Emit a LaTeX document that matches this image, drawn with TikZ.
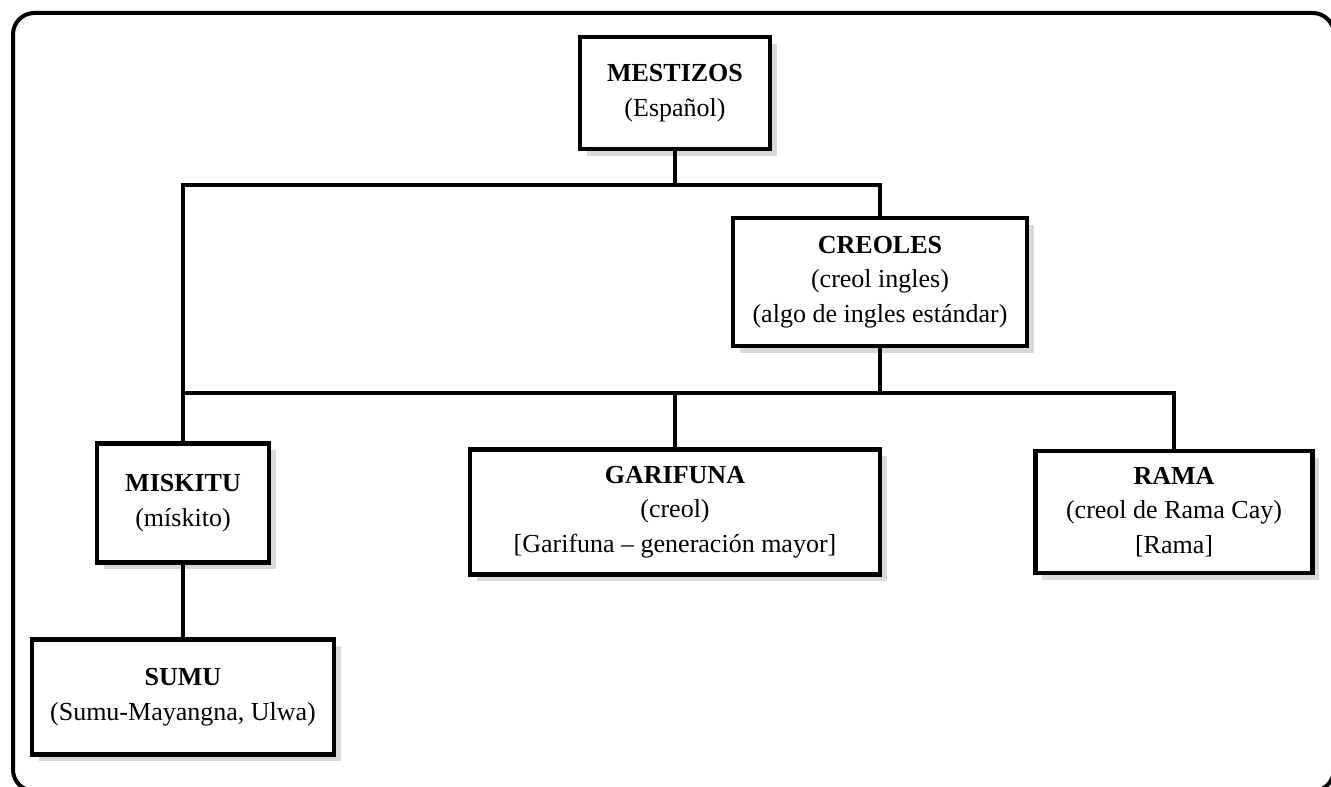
\documentclass[tikz,border=0pt]{standalone}
\usepackage{fontspec}
\setmainfont{Liberation Serif}

\tikzset{every picture/.style={line width=0.75pt}}
\tikzset{
  grupo/.style={draw, fill=white, line width=3.4pt, align=center, inner sep=0pt,
    font=\fontsize{19.5}{26}\selectfont,
    preaction={fill=gray!30, draw=none, transform canvas={xshift=5pt, yshift=-5pt}}},
  enlace/.style={line width=2.8pt}
}

\begin{document}
\begin{tikzpicture}[x=0.75pt,y=0.75pt,yscale=-1,xscale=1]
    \useasboundingbox (0,0) rectangle (1331,787);

    %Shape: Rounded Rectangle [id:frame]
    \draw [line width=3pt, rounded corners=16pt] (13,13) rectangle (1334,791);

    % Text Node
    \draw (675,93) node [grupo, minimum width=142.5pt, minimum height=84pt] (mestizos) {\textbf{MESTIZOS}\\(Español)};
    % Text Node
    \draw (880,282) node [grupo, minimum width=220.5pt, minimum height=96pt] (creoles) {\textbf{CREOLES}\\(creol ingles)\\(algo de ingles estándar)};
    % Text Node
    \draw (183,503) node [grupo, minimum width=129pt, minimum height=89pt] (miskitu) {\textbf{MISKITU}\\(mískito)};
    % Text Node
    \draw (183,697) node [grupo, minimum width=226.5pt, minimum height=86pt] (sumu) {\textbf{SUMU}\\(Sumu-Mayangna, Ulwa)};
    % Text Node
    \draw (675,512) node [grupo, minimum width=307.5pt, minimum height=94pt] (garifuna) {\textbf{GARIFUNA}\\(creol)\\{[}Garifuna -- generación mayor{]}};
    % Text Node
    \draw (1174,512) node [grupo, minimum width=208pt, minimum height=91.5pt] (rama) {\textbf{RAMA}\\(creol de Rama Cay)\\{[}Rama{]}};

    % Connectors
    \coordinate (arriba) at (183,185);
    \coordinate (abajo) at (183,393);
    \draw [enlace] (mestizos.south) -- (mestizos.south |- arriba);
    \draw [enlace] (miskitu.north) -- (arriba) -| (creoles.north);
    \draw [enlace] (creoles.south) -- (creoles.south |- abajo);
    \draw [enlace] (abajo) -| (rama.north);
    \draw [enlace] (garifuna.north) -- (garifuna.north |- abajo);
    \draw [enlace] (miskitu.south) -- (sumu.north);
\end{tikzpicture}
\end{document}
